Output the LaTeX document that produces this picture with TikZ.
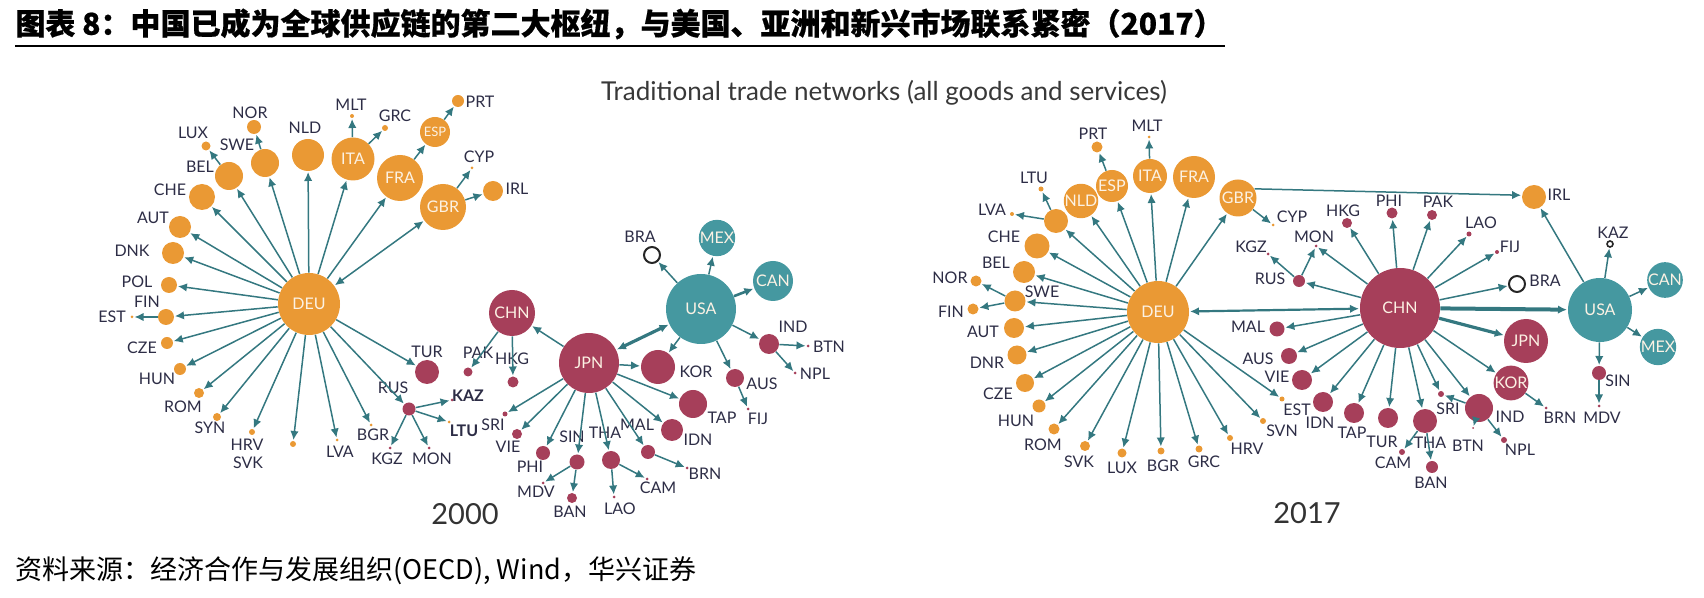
\documentclass[tikz,border=0pt]{standalone}
\usepackage{fontspec}
\setmainfont{Lato}
\newfontfamily\cjk{Noto Sans CJK SC}
\newfontfamily\cjkt{Noto Sans CJK SC}[BoldFeatures={FakeBold=0.6}]
\usetikzlibrary{arrows.meta}
\definecolor{cO}{RGB}{234,153,52}
\definecolor{cR}{RGB}{166,63,90}
\definecolor{cT}{RGB}{69,152,160}
\definecolor{arrc}{RGB}{52,120,128}
\definecolor{labc}{RGB}{45,45,70}
\definecolor{inc}{RGB}{252,242,228}
\tikzset{
 lab/.style={text=labc, font=\fontsize{8}{9}\selectfont, inner sep=0pt},
 arr/.style={draw=arrc, line width=0.75pt, -{Latex[length=4.5pt,width=4.2pt]}, shorten >=0.3pt},
 darr/.style={draw=arrc, line width=0.75pt, {Latex[length=4.5pt,width=4.2pt]}-{Latex[length=4.5pt,width=4.2pt]}, shorten >=0.3pt, shorten <=0.3pt},
 open/.style={circle, draw=black!85, fill=white, line width=1pt, inner sep=0pt},
}
\newcommand\cc[6]{\node[circle,fill=#2,inner sep=0pt,minimum size=#5pt,text=inc,font=\fontsize{8}{9}\selectfont] (#1) at (#3,#4) {#6};}
\newcommand\cl[4]{\node[lab] (#1) at (#2,#3) {#4};}
\begin{document}
\begin{tikzpicture}[x=0.5pt,y=-0.5pt]
\useasboundingbox (0,0) rectangle (1704,598);
% title
\node[anchor=west, inner sep=0pt, font=\cjkt\bfseries\fontsize{15}{17}\selectfont] (title) at (15,24) {图表 8：中国已成为全球供应链的第二大枢纽，与美国、亚洲和新兴市场联系紧密（2017）};
\coordinate (ul1) at (15,46); \coordinate (ul2) at (1225,46);
\draw[line width=1pt] (ul1) -- (ul2);
\node[inner sep=0pt, text=black!78, font=\fontsize{13}{15}\selectfont] (sub) at (884,93) {Traditional trade networks (all goods and services)};
\node[anchor=west, inner sep=0pt, font=\cjk\fontsize{13.5}{15}\selectfont] (src) at (15,571) {资料来源：经济合作与发展组织(OECD), Wind，华兴证券};
\node[inner sep=0pt, text=black!80, font=\fontsize{14.5}{16}\selectfont] (y2000) at (465,514) {2000};
\node[inner sep=0pt, text=black!80, font=\fontsize{14.5}{16}\selectfont] (y2017) at (1307,513) {2017};

% ================= 2000 =================
\cc{aDEU}{cO}{309}{304}{31}{DEU}
\cc{aNLD}{cO}{308}{155}{16}{} \cl{laNLD}{305}{128}{NLD}
\cc{aITA}{cO}{353}{159}{21.5}{ITA}
\cc{aFRA}{cO}{400}{178}{23}{FRA}
\cc{aGBR}{cO}{443}{207}{23}{GBR}
\node[circle,fill=cO,inner sep=0pt,minimum size=15pt,text=inc,font=\fontsize{6.5}{7}\selectfont] (aESP) at (435,132) {ESP};
\cc{aPRT}{cO}{458}{101}{6}{} \cl{laPRT}{480}{102}{PRT}
\cc{aMLT}{cO}{352}{116}{2}{} \cl{laMLT}{351}{105}{MLT}
\cc{aGRC}{cO}{385}{128}{3}{} \cl{laGRC}{395}{116}{GRC}
\cc{aCYP}{cO}{472}{168}{1.5}{} \cl{laCYP}{479}{157}{CYP}
\cc{aIRL}{cO}{493}{191}{10}{} \cl{laIRL}{517}{189}{IRL}
\cc{aNOR}{cO}{254}{127}{7}{} \cl{laNOR}{250}{113}{NOR}
\cc{aLUX}{cO}{206}{146}{4.5}{} \cl{laLUX}{193}{133}{LUX}
\cc{aSWE}{cO}{265}{163}{14}{} \cl{laSWE}{237}{145}{SWE}
\cc{aBEL}{cO}{229}{176}{14}{} \cl{laBEL}{200}{167}{BEL}
\cc{aCHE}{cO}{202}{197}{13}{} \cl{laCHE}{170}{190}{CHE}
\cc{aAUT}{cO}{180}{227}{11}{} \cl{laAUT}{153}{218}{AUT}
\cc{aDNK}{cO}{173}{253}{11}{} \cl{laDNK}{132}{251}{DNK}
\cc{aPOL}{cO}{169}{285}{8}{} \cl{laPOL}{137}{282}{POL}
\cc{aFIN}{cO}{166}{317}{8}{} \cl{laFIN}{147}{302}{FIN}
\cc{aEST}{cO}{132}{317}{1.5}{} \cl{laEST}{112}{317}{EST}
\cc{aCZE}{cO}{167}{343}{6}{} \cl{laCZE}{142}{348}{CZE}
\cc{aHUN}{cO}{180}{369}{6}{} \cl{laHUN}{157}{379}{HUN}
\cc{aROM}{cO}{199}{393}{5}{} \cl{laROM}{183}{407}{ROM}
\cc{aSYN}{cO}{217}{417}{4}{} \cl{laSYN}{210}{428}{SYN}
\cc{aHRV}{cO}{252}{432}{3}{} \cl{laHRV}{247}{445}{HRV} \cl{laSVK}{248}{463}{SVK}
\cc{aX}{cO}{293}{444}{3}{}
\cc{aLVA}{cO}{337}{440}{1.5}{} \cl{laLVA}{340}{452}{LVA}
\cc{aBGR}{cO}{371}{425}{1.5}{} \cl{laBGR}{373}{435}{BGR}
\cc{aTUR}{cR}{427}{372}{12}{} \cl{laTUR}{427}{352}{TUR}
\cc{aRUS}{cR}{409}{409}{6.5}{} \cl{laRUS}{393}{388}{RUS}
\cc{aKAZ}{cR}{452}{400}{1.5}{} \node[lab,font=\fontsize{8}{9}\selectfont\bfseries] (laKAZ) at (468,396) {KAZ};
\cc{aLTU}{cO}{449}{422}{1.5}{} \node[lab,font=\fontsize{8}{9}\selectfont\bfseries] (laLTU) at (464,431) {LTU};
\cc{aKGZ}{cR}{390}{448}{1.5}{} \cl{laKGZ}{387}{459}{KGZ}
\cc{aMON}{cR}{429}{448}{1.5}{} \cl{laMON}{432}{459}{MON}
\cc{aCHN}{cR}{512}{313}{23}{CHN}
\cc{aPAK}{cR}{468}{372}{4.5}{} \cl{laPAK}{478}{353}{PAK}
\cc{aHKG}{cR}{513}{382}{5.5}{} \cl{laHKG}{512}{359}{HKG}
\cc{aJPN}{cR}{589}{363}{30}{JPN}
\cc{aUSA}{cT}{701}{309}{35}{USA}
\cc{aMEX}{cT}{717}{238}{18}{MEX}
\cc{aCAN}{cT}{773}{281}{20}{CAN}
\node[open,minimum size=8pt] (aBRA) at (652,255) {}; \cl{laBRA}{640}{237}{BRA}
\cc{aKOR}{cR}{658}{367}{17}{} \cl{laKOR}{696}{372}{KOR}
\cc{aTAP}{cR}{693}{404}{14}{} \cl{laTAP}{722}{418}{TAP}
\cc{aIDN}{cR}{672}{430}{11}{} \cl{laIDN}{698}{440}{IDN}
\cc{aAUS}{cR}{735}{378}{9}{} \cl{laAUS}{762}{384}{AUS}
\cc{aFIJ}{cR}{748}{409}{1.5}{} \cl{laFIJ}{758}{419}{FIJ}
\cc{aIND}{cR}{769}{344}{10}{} \cl{laIND}{793}{327}{IND}
\cc{aBTN}{cR}{808}{346}{1.5}{} \cl{laBTN}{829}{347}{BTN}
\cc{aNPL}{cR}{795}{373}{1.5}{} \cl{laNPL}{815}{374}{NPL}
\cc{aSRI}{cR}{505}{414}{2.5}{} \cl{laSRI}{493}{425}{SRI}
\cc{aVIE}{cR}{517}{434}{5}{} \cl{laVIE}{508}{447}{VIE}
\cc{aPHI}{cR}{543}{453}{7}{} \cl{laPHI}{530}{467}{PHI}
\cc{aMDV}{cR}{543}{483}{1.5}{} \cl{laMDV}{536}{492}{MDV}
\cc{aSIN}{cR}{577}{462}{7.5}{} \cl{laSIN}{572}{437}{SIN}
\cc{aBAN}{cR}{572}{498}{5}{} \cl{laBAN}{570}{512}{BAN}
\cc{aTHA}{cR}{611}{460}{9}{} \cl{laTHA}{605}{433}{THA}
\cc{aLAO}{cR}{614}{497}{1.5}{} \cl{laLAO}{620}{509}{LAO}
\cc{aCAM}{cR}{647}{479}{1.5}{} \cl{laCAM}{658}{488}{CAM}
\cc{aMAL}{cR}{648}{452}{7}{} \cl{laMAL}{637}{425}{MAL}
\cc{aBRN}{cR}{687}{468}{1.5}{} \cl{laBRN}{705}{474}{BRN}

\foreach \t in {NLD,ITA,FRA,SWE,BEL,CHE,AUT,DNK,POL,FIN,CZE,HUN,ROM,SYN,HRV,X,LVA,BGR,RUS,TUR}
  \draw[arr] (aDEU) -- (a\t);
\draw[darr] (aDEU) -- (aGBR);
\draw[arr] (aSWE) -- (aNOR);
\draw[arr] (aBEL) -- (aLUX);
\draw[arr] (aITA) -- (aMLT);
\draw[arr] (aITA) -- (aGRC);
\draw[arr] (aFRA) -- (aESP);
\draw[arr] (aESP) -- (aPRT);
\draw[arr] (aGBR) -- (aCYP);
\draw[arr] (aGBR) -- (aIRL);
\draw[arr] (aFIN) -- (aEST);
\foreach \t in {KAZ,LTU,KGZ,MON} \draw[arr] (aRUS) -- (a\t);
\draw[arr] (aCHN) -- (aPAK);
\draw[arr] (aCHN) -- (aHKG);
\foreach \t in {CHN,KOR,TAP,IDN,MAL,THA,SIN,PHI,VIE,SRI} \draw[arr] (aJPN) -- (a\t);
\draw[darr, line width=1.6pt] (aJPN) -- (aUSA);
\draw[arr] (aSIN) -- (aMDV);
\draw[arr] (aSIN) -- (aBAN);
\draw[arr] (aTHA) -- (aLAO);
\draw[arr] (aTHA) -- (aCAM);
\draw[arr] (aMAL) -- (aBRN);
\foreach \t in {BRA,MEX,KOR,AUS,IND} \draw[arr] (aUSA) -- (a\t);
\draw[arr, line width=1.3pt] (aUSA) -- (aCAN);
\draw[arr] (aAUS) -- (aFIJ);
\draw[arr] (aIND) -- (aBTN);
\draw[arr] (aIND) -- (aNPL);

% ================= 2017 =================
\cc{bDEU}{cO}{1158}{312}{31}{DEU}
\cc{bGBR}{cO}{1238}{198}{18.5}{GBR}
\cc{bFRA}{cO}{1194}{177}{21}{FRA}
\cc{bITA}{cO}{1150}{176}{17}{ITA}
\cc{bESP}{cO}{1112}{186}{16}{ESP}
\cc{bNLD}{cO}{1081}{201}{14}{NLD}
\cc{bPRT}{cO}{1097}{147}{5.5}{} \cl{lbPRT}{1093}{134}{PRT}
\cc{bMLT}{cO}{1149}{137}{1.5}{} \cl{lbMLT}{1147}{126}{MLT}
\cc{bLTU}{cO}{1041}{189}{2.5}{} \cl{lbLTU}{1034}{178}{LTU}
\cc{bLVA}{cO}{1012}{214}{2}{} \cl{lbLVA}{992}{210}{LVA}
\cc{bX}{cO}{1056}{221}{12}{}
\cc{bCHE}{cO}{1037}{246}{12.5}{} \cl{lbCHE}{1004}{237}{CHE}
\cc{bBEL}{cO}{1024}{272}{11}{} \cl{lbBEL}{996}{263}{BEL}
\cc{bSWE}{cO}{1015}{301}{10.5}{} \cl{lbSWE}{1042}{292}{SWE}
\cc{bNOR}{cO}{976}{281}{5.5}{} \cl{lbNOR}{950}{278}{NOR}
\cc{bFIN}{cO}{973}{309}{5.5}{} \cl{lbFIN}{951}{312}{FIN}
\cc{bAUT}{cO}{1014}{328}{10}{} \cl{lbAUT}{983}{332}{AUT}
\cc{bDNR}{cO}{1017}{355}{9.5}{} \cl{lbDNR}{987}{363}{DNR}
\cc{bCZE}{cO}{1025}{383}{9}{} \cl{lbCZE}{998}{394}{CZE}
\cc{bHUN}{cO}{1039}{406}{6.5}{} \cl{lbHUN}{1016}{421}{HUN}
\cc{bROM}{cO}{1054}{429}{5.5}{} \cl{lbROM}{1043}{445}{ROM}
\cc{bSVK}{cO}{1085}{446}{5}{} \cl{lbSVK}{1079}{462}{SVK}
\cc{bLUX}{cO}{1122}{453}{4.5}{} \cl{lbLUX}{1122}{468}{LUX}
\cc{bBGR}{cO}{1161}{451}{3.5}{} \cl{lbBGR}{1163}{466}{BGR}
\cc{bGRC}{cO}{1199}{449}{3.5}{} \cl{lbGRC}{1204}{462}{GRC}
\cc{bHRV}{cO}{1230}{438}{3}{} \cl{lbHRV}{1247}{449}{HRV}
\cc{bSVN}{cO}{1263}{421}{3}{} \cl{lbSVN}{1282}{431}{SVN}
\cc{bEST}{cO}{1282}{399}{2.5}{} \cl{lbEST}{1297}{410}{EST}
\cc{bCYP}{cO}{1273}{225}{1.5}{} \cl{lbCYP}{1292}{217}{CYP}
\cc{bIRL}{cO}{1534}{197}{12}{} \cl{lbIRL}{1559}{195}{IRL}
\cc{bCHN}{cR}{1400}{308}{40}{CHN}
\cc{bUSA}{cT}{1600}{310}{32}{USA}
\node[open,minimum size=3pt,line width=0.8pt] (bKAZ) at (1610,244) {}; \cl{lbKAZ}{1613}{233}{KAZ}
\cc{bCAN}{cT}{1665}{280}{16}{CAN}
\cc{bMEX}{cT}{1658}{347}{16.5}{MEX}
\cc{bSIN}{cR}{1599}{373}{7}{} \cl{lbSIN}{1618}{381}{SIN}
\cc{bMDV}{cR}{1599}{406}{1.5}{} \cl{lbMDV}{1602}{418}{MDV}
\cc{bJPN}{cR}{1526}{341}{22}{JPN}
\cc{bKOR}{cR}{1511}{383}{17}{KOR}
\cc{bBRN}{cR}{1546}{408}{1.5}{} \cl{lbBRN}{1560}{418}{BRN}
\cc{bIND}{cR}{1479}{408}{14}{} \cl{lbIND}{1510}{417}{IND}
\cc{bSRI}{cR}{1441}{394}{3}{} \cl{lbSRI}{1448}{409}{SRI}
\cc{bBTN}{cR}{1473}{428}{1}{} \cl{lbBTN}{1468}{446}{BTN}
\cc{bNPL}{cR}{1504}{440}{3}{} \cl{lbNPL}{1520}{450}{NPL}
\cc{bTHA}{cR}{1425}{421}{12}{} \cl{lbTHA}{1430}{443}{THA}
\cc{bBAN}{cR}{1432}{467}{6}{} \cl{lbBAN}{1431}{483}{BAN}
\cc{bCAM}{cR}{1402}{452}{3}{} \cl{lbCAM}{1393}{463}{CAM}
\cc{bTUR}{cR}{1388}{418}{10}{} \cl{lbTUR}{1382}{442}{TUR}
\cc{bTAP}{cR}{1354}{413}{10}{} \cl{lbTAP}{1352}{433}{TAP}
\cc{bIDN}{cR}{1323}{402}{10}{} \cl{lbIDN}{1320}{423}{IDN}
\cc{bVIE}{cR}{1302}{380}{10}{} \cl{lbVIE}{1277}{377}{VIE}
\cc{bAUS}{cR}{1289}{356}{8}{} \cl{lbAUS}{1258}{359}{AUS}
\cc{bMAL}{cR}{1277}{329}{7.5}{} \cl{lbMAL}{1248}{327}{MAL}
\cc{bRUS}{cR}{1299}{281}{6}{} \cl{lbRUS}{1270}{279}{RUS}
\cc{bKGZ}{cR}{1268}{254}{1.5}{} \cl{lbKGZ}{1251}{247}{KGZ}
\cc{bMON}{cR}{1316}{246}{1.5}{} \cl{lbMON}{1314}{237}{MON}
\cc{bHKG}{cR}{1347}{223}{5}{} \cl{lbHKG}{1343}{211}{HKG}
\cc{bPHI}{cR}{1392}{213}{5.5}{} \cl{lbPHI}{1389}{201}{PHI}
\cc{bPAK}{cR}{1432}{215}{5}{} \cl{lbPAK}{1438}{202}{PAK}
\cc{bLAO}{cR}{1469}{234}{2.5}{} \cl{lbLAO}{1481}{223}{LAO}
\cc{bFIJ}{cR}{1497}{252}{2}{} \cl{lbFIJ}{1510}{247}{FIJ}
\node[open,minimum size=8pt] (bBRA) at (1517,284) {}; \cl{lbBRA}{1545}{281}{BRA}

\foreach \t in {X,NLD,ESP,ITA,FRA,GBR,CHE,BEL,SWE,AUT,DNR,CZE,HUN,ROM,SVK,LUX,BGR,GRC,HRV,SVN,EST}
  \draw[arr] (bDEU) -- (b\t);
\draw[arr] (bX) -- (bLTU);
\draw[arr] (bX) -- (bLVA);
\draw[arr] (bSWE) -- (bNOR);
\draw[arr] (bSWE) -- (bFIN);
\draw[arr] (bESP) -- (bPRT);
\draw[arr] (bITA) -- (bMLT);
\draw[arr] (bGBR) -- (bCYP);
\draw[arr] (bGBR.29) -- (bIRL.172);
\draw[darr, line width=1.1pt] (bCHN) -- (bDEU);
\foreach \t in {RUS,MON,HKG,PHI,PAK,LAO,FIJ,BRA,KOR,IND,SRI,THA,TUR,TAP,IDN,VIE,AUS,MAL}
  \draw[arr] (bCHN) -- (b\t);
\draw[arr, line width=2pt] (bCHN) -- (bUSA);
\draw[arr, line width=1.6pt] (bCHN) -- (bJPN);
\draw[arr] (bRUS) -- (bKGZ);
\draw[arr] (bRUS) -- (bMON);
\draw[arr] (bIND) -- (bSRI);
\draw[arr] (bIND) -- (bBTN);
\draw[arr] (bIND) -- (bNPL);
\draw[arr] (bTHA) -- (bCAM);
\draw[arr] (bTHA) -- (bBAN);
\draw[arr] (bKOR) -- (bBRN);
\foreach \t in {IRL,KAZ,CAN,MEX,SIN} \draw[arr] (bUSA) -- (b\t);
\draw[arr] (bSIN) -- (bMDV);
\end{tikzpicture}
\end{document}
